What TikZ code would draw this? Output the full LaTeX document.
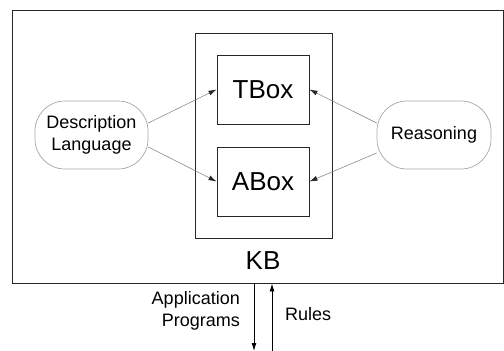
\documentclass[tikz,border=0pt]{standalone}
\usepackage{fontspec}
\setmainfont{Liberation Sans}
\usetikzlibrary{arrows.meta}
\begin{document}
\begin{tikzpicture}[x=1pt,y=-1pt,
  box/.style={draw=black!85,line width=0.9pt,inner sep=0pt},
  pill/.style={draw=black!35,line width=0.7pt,rounded corners=30pt,inner sep=0pt,minimum width=113pt,minimum height=68pt,align=center,font=\fontsize{18}{22}\selectfont},
  conn/.style={draw=black!45,line width=0.6pt,-{Latex[length=8pt,width=5pt,color=black!85]}},
  big/.style={font=\fontsize{26}{30}\selectfont},
  lbl/.style={font=\fontsize{18}{22}\selectfont,inner sep=0pt}]
\useasboundingbox (0,0) rectangle (504,351);
\node[box,minimum width=491pt,minimum height=273pt] (outer) at (257.5,146.5) {};
\node[box,minimum width=137pt,minimum height=205pt] (kb) at (263.5,135.5) {};
\node[box,big,minimum width=92pt,minimum height=69pt] (tbox) at (263,89.5) {TBox};
\node[box,big,minimum width=92pt,minimum height=69pt] (abox) at (263,181.5) {ABox};
\node[big,inner sep=0pt] (kblabel) at (263,261) {KB};
\node[pill] (dl) at (91.5,135) {Description\\Language};
\node[pill,minimum width=114pt] (rs) at (434,135) {Reasoning};
\draw[conn] ([yshift=12pt]dl.east) -- (tbox.west);
\draw[conn] ([yshift=-12pt]dl.east) -- (abox.west);
\draw[conn] ([yshift=12pt]rs.west) -- (tbox.east);
\draw[conn] ([yshift=-18pt]rs.west) -- (abox.east);
\coordinate (downend) at (254,351);
\coordinate (upstart) at (272,351);
\draw[line width=0.9pt,-{Latex[length=8pt,width=5pt]}] (outer.south -| downend) -- (downend);
\draw[line width=0.9pt,-{Latex[length=8pt,width=5pt]}] (upstart) -- (outer.south -| upstart);
\node[lbl,align=right,anchor=east] (app) at (240,311) {Application\\Programs};
\node[lbl,anchor=west] (rules) at (285,314) {Rules};
\end{tikzpicture}
\end{document}
